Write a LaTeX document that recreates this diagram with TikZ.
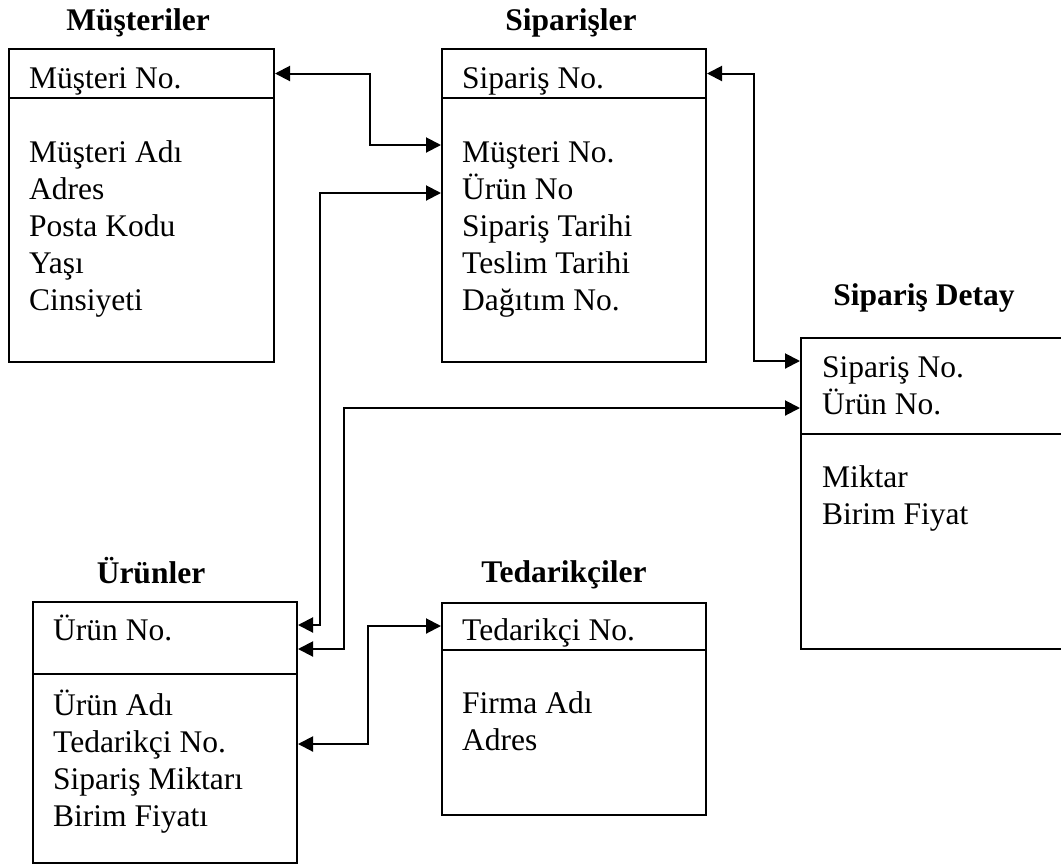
\documentclass[tikz,border=0pt]{standalone}
\usepackage{fontspec}
\setmainfont{Liberation Serif}
\usetikzlibrary{arrows.meta}

\newcommand\fieldrows[4]{% #1 = left x, #2 = first baseline, #3 = name prefix, #4 = rows
  \foreach \t [count=\i] in {#4}
    \node[fld] (#3\i) at ({#1},{#2+37*(\i-1)}) {\t};}

\begin{document}
\begin{tikzpicture}[x=1pt, y=-1pt,
  tbl/.style={draw, line width=2pt, inner sep=0pt, anchor=north west},
  fld/.style={inner sep=0pt, anchor=base west, font=\fontsize{31.5}{37}\selectfont},
  ttl/.style={inner sep=0pt, anchor=base, font=\fontsize{31.5}{37}\selectfont\bfseries},
  link/.style={line width=2pt,
    {Triangle[length=15pt,width=15pt]}-{Triangle[length=15pt,width=15pt]}}]

\useasboundingbox (0,0) rectangle (1061,863);
\clip (0,0) rectangle (1061,863);

% Müşteriler
\node[ttl] (mt) at (138,30) {Müşteriler};
\node[tbl, minimum width=265pt, minimum height=49pt] (mh) at (8,48) {};
\node[tbl, minimum width=265pt, minimum height=264pt] (mb) at (8,97) {};
\node[fld] (mk) at (29,88) {Müşteri No.};
\fieldrows{29}{162}{mf}{Müşteri Adı, Adres, Posta Kodu, Yaşı, Cinsiyeti}

% Siparişler
\node[ttl] (st) at (571,30) {Siparişler};
\node[tbl, minimum width=264pt, minimum height=49pt] (sh) at (441,48) {};
\node[tbl, minimum width=264pt, minimum height=264pt] (sb) at (441,97) {};
\node[fld] (sk) at (462,88) {Sipariş No.};
\fieldrows{462}{162}{sf}{Müşteri No., Ürün No, Sipariş Tarihi, Teslim Tarihi, Dağıtım No.}

% Sipariş Detay (runs past the right edge)
\node[ttl] (dt) at (924,305) {Sipariş Detay};
\node[tbl, minimum width=275pt, minimum height=96pt] (dh) at (800,337) {};
\node[tbl, minimum width=275pt, minimum height=215pt] (db) at (800,433) {};
\fieldrows{822}{377}{dk}{Sipariş No., Ürün No.}
\fieldrows{822}{487}{df}{Miktar, Birim Fiyat}

% Ürünler
\node[ttl] (ut) at (151,583) {Ürünler};
\node[tbl, minimum width=264pt, minimum height=72pt] (uh) at (32,601) {};
\node[tbl, minimum width=264pt, minimum height=189pt] (ub) at (32,673) {};
\node[fld] (uk) at (53,640) {Ürün No.};
\fieldrows{53}{715}{uf}{Ürün Adı, Tedarikçi No., Sipariş Miktarı, Birim Fiyatı}

% Tedarikçiler
\node[ttl] (tt) at (564,582) {Tedarikçiler};
\node[tbl, minimum width=264pt, minimum height=47pt] (th) at (441,602) {};
\node[tbl, minimum width=264pt, minimum height=165pt] (tb) at (441,649) {};
\node[fld] (tk) at (462,640) {Tedarikçi No.};
\fieldrows{462}{713}{tf}{Firma Adı, Adres}

% relationships
\draw[link] (mh.east) -- ++(95,0) |- (sb.west |- 0,145);
\draw[link] (sb.west |- 0,193) -- ++(-121,0) |- (uh.east |- 0,625);
\draw[link] (sh.east) -- ++(47,0) |- (dh.west |- 0,361);
\draw[link] (dh.west |- 0,408) -- ++(-456,0) |- (uh.east |- 0,649);
\draw[link] (th.west |- 0,626) -- ++(-73,0) |- (ub.east |- 0,744);
\end{tikzpicture}
\end{document}
